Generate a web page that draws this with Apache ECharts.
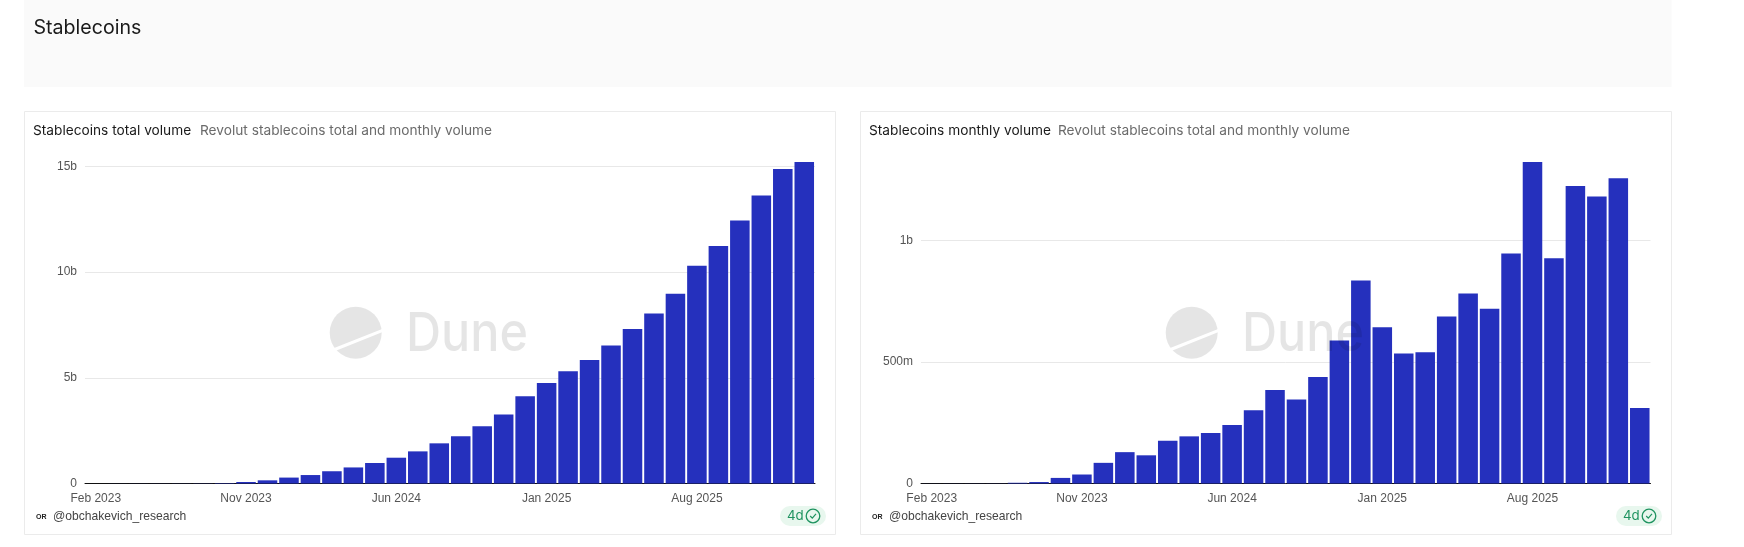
<!DOCTYPE html>
<html>
<head>
<meta charset="utf-8">
<style>html,body{margin:0;padding:0;background:#fff}#c{width:1744px;height:547px}</style>
<script src="https://cdn.jsdelivr.net/npm/echarts@6/dist/echarts.min.js"></script>
</head>
<body>
<div id="c"></div>
<script>
const categories = ['Feb 2023','Mar 2023','May 2023','Jun 2023','Aug 2023','Sep 2023','Oct 2023','Nov 2023','Dec 2023','Jan 2024','Feb 2024','Mar 2024','Apr 2024','May 2024','Jun 2024','Jul 2024','Aug 2024','Sep 2024','Oct 2024','Nov 2024','Dec 2024','Jan 2025','Feb 2025','Mar 2025','Apr 2025','May 2025','Jun 2025','Jul 2025','Aug 2025','Sep 2025','Oct 2025','Nov 2025','Dec 2025','Jan 2026'];
const totalVolume = [0.001,0.002,0.003,0.004,0.005,0.008,0.02,0.07,0.15,0.28,0.40,0.58,0.76,0.97,1.22,1.52,1.90,2.24,2.71,3.27,4.13,4.75,5.31,5.84,6.53,7.31,8.04,8.98,10.30,11.24,12.44,13.63,14.88,15.21].map(v => v * 1e9);
const monthlyVolume = [0.2,0.3,0.4,0.5,3,6,23,37,85,129,116,176,194,208,241,301,385,346,438,588,835,643,535,540,687,782,719,946,1323,927,1224,1181,1256,311].map(v => v * 1e6);
const pageTitle = 'Stablecoins';
const subtitle = 'Revolut stablecoins total and monthly volume';
const chartTitles = ['Stablecoins total volume', 'Stablecoins monthly volume'];
const author = '@obchakevich_research';
const age = '4d';

const UI = 'Inter, "Noto Sans", sans-serif';
const AX = '"Liberation Sans", Arial, sans-serif';
const fmt = v => v === 0 ? '0' : v >= 1e9 ? (v / 1e9) + 'b' : (v / 1e6) + 'm';

function axes(idx, top) {
  return {
    x: {
      type: 'category', gridIndex: idx, data: categories,
      axisTick: {show: false},
      axisLine: {lineStyle: {color: '#111', width: 1}},
      axisLabel: {interval: 6, margin: 9, color: '#555', fontFamily: AX, fontSize: 12, hideOverlap: false}
    },
    y: {
      type: 'value', gridIndex: idx, min: 0, max: top.max, interval: top.interval,
      axisLine: {show: false}, axisTick: {show: false},
      splitLine: {showMaxLine: false, lineStyle: {color: '#e8e8e8', width: 1}},
      axisLabel: {showMaxLabel: false, margin: 8, color: '#555', fontFamily: AX, fontSize: 12, formatter: fmt}
    }
  };
}

function panel(px, pw, title, subX, circleX, duneX) {
  const tx = {type: 'text', silent: true};
  const bx = px + pw - 55;
  return [
    {type: 'rect', z: -1, shape: {x: px + 0.5, y: 111.5, width: pw, height: 423}, style: {fill: '#fff', stroke: '#ebebeb', lineWidth: 1}},
    {...tx, z: 5, style: {text: title, x: px + 9, y: 131, font: '13.7px ' + UI, fill: '#1a1a1a', textVerticalAlign: 'middle'}},
    {...tx, z: 5, style: {text: subtitle, x: subX, y: 131, font: '13.7px ' + UI, fill: '#6b6b6b', textVerticalAlign: 'middle'}},
    {type: 'circle', z: 10, silent: true, shape: {cx: circleX, cy: 332.7, r: 26}, style: {fill: 'rgba(0,0,0,0.1)'}},
    {type: 'line', z: 11, silent: true, shape: {x1: circleX - 21, y1: 349.5, x2: circleX + 27, y2: 330.3}, style: {stroke: '#fff', lineWidth: 3}},
    {...tx, z: 10, x: duneX, y: 362, scaleX: 0.9, originX: 0, originY: 0, style: {text: 'Dune', x: 0, y: 0, font: '500 54px ' + UI, fill: 'rgba(0,0,0,0.1)', textVerticalAlign: 'bottom'}},
    {...tx, z: 5, style: {text: 'OR', x: px + 12, y: 517, font: 'bold 7px ' + AX, fill: '#222', textVerticalAlign: 'middle'}},
    {...tx, z: 5, style: {text: author, x: px + 29, y: 517, font: '12.1px ' + AX, fill: '#444', textVerticalAlign: 'middle'}},
    {type: 'rect', z: 5, silent: true, shape: {x: bx, y: 506, width: 46, height: 20, r: 10}, style: {fill: '#e8f7ee'}},
    {...tx, z: 6, style: {text: age, x: bx + 7, y: 516, font: '13.3px ' + UI, fill: '#1f9360', textVerticalAlign: 'middle'}},
    {type: 'circle', z: 6, silent: true, shape: {cx: bx + 33, cy: 516, r: 6.8}, style: {fill: 'none', stroke: '#1f9360', lineWidth: 1.3}},
    {type: 'polyline', z: 6, silent: true, shape: {points: [[bx + 30.2, 516], [bx + 32.3, 518.2], [bx + 36, 513.8]]}, style: {fill: 'none', stroke: '#1f9360', lineWidth: 1.2}}
  ];
}

const a0 = axes(0, {max: 15.21e9, interval: 5e9});
const a1 = axes(1, {max: 1323e6, interval: 500e6});
const bar = (i, data) => ({
  type: 'bar', xAxisIndex: i, yAxisIndex: i, data,
  barCategoryGap: '9%', itemStyle: {color: '#2530bd'}, silent: true
});

const chart = echarts.init(document.getElementById('c'), null, {renderer: 'canvas'});
chart.setOption({
  animation: false,
  backgroundColor: '#fff',
  grid: [
    {left: 85, width: 730, top: 162, height: 321.5},
    {left: 921, width: 729.5, top: 162, height: 321.5}
  ],
  xAxis: [a0.x, a1.x],
  yAxis: [a0.y, a1.y],
  series: [bar(0, totalVolume), bar(1, monthlyVolume)],
  graphic: {elements: [
    {type: 'rect', z: -1, silent: true, shape: {x: 24, y: 0, width: 1647.5, height: 87}, style: {fill: '#fafafa'}},
    {type: 'text', z: 5, silent: true, style: {text: pageTitle, x: 33.5, y: 28, font: '19.6px ' + UI, fill: '#1a1a1a', textVerticalAlign: 'middle'}},
    ...panel(24, 811, chartTitles[0], 200, 355.7, 406),
    ...panel(860, 811, chartTitles[1], 1058, 1191.7, 1242)
  ]}
});
</script>
</body>
</html>
